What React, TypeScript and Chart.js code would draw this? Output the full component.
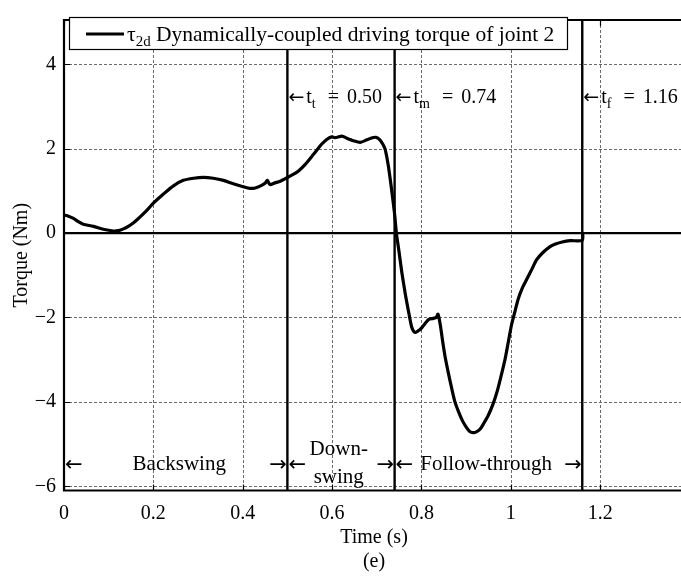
import React, { useEffect, useRef } from 'react';
import { Chart, registerables } from 'chart.js';

Chart.register(...registerables);

// ---- data ----
const timeS = [
  0.0, 0.01, 0.021, 0.032, 0.043, 0.066, 0.088, 0.11, 0.122, 0.133, 0.144, 0.155, 0.166, 0.178, 0.189,
  0.2, 0.222, 0.245, 0.267, 0.29, 0.312, 0.334, 0.357, 0.379, 0.401, 0.416, 0.428, 0.44, 0.45, 0.455,
  0.461, 0.472, 0.484, 0.502, 0.521, 0.54, 0.558, 0.577, 0.588, 0.599, 0.606, 0.612, 0.622, 0.633,
  0.648, 0.663, 0.678, 0.69, 0.698, 0.707, 0.714, 0.719, 0.726, 0.733, 0.74, 0.744, 0.75, 0.756,
  0.764, 0.771, 0.778, 0.783, 0.788, 0.795, 0.801, 0.816, 0.827, 0.833, 0.837, 0.842, 0.848, 0.853,
  0.86, 0.868, 0.875, 0.883, 0.892, 0.901, 0.908, 0.916, 0.923, 0.931, 0.94, 0.95, 0.96, 0.969,
  0.978, 0.987, 0.995, 1.002, 1.01, 1.017, 1.026, 1.036, 1.047, 1.058, 1.072, 1.088, 1.1, 1.115,
  1.133, 1.16, 1.161,
];
const torqueNm = [
  0.43, 0.4, 0.35, 0.27, 0.21, 0.16, 0.09, 0.05, 0.06, 0.1, 0.16, 0.24, 0.34, 0.46, 0.58,
  0.71, 0.92, 1.12, 1.25, 1.3, 1.32, 1.3, 1.25, 1.17, 1.1, 1.06, 1.07, 1.12, 1.18, 1.25,
  1.15, 1.19, 1.23, 1.33, 1.44, 1.63, 1.86, 2.11, 2.22, 2.28, 2.26, 2.27, 2.3, 2.25,
  2.19, 2.15, 2.21, 2.26, 2.27, 2.21, 2.1, 1.98, 1.59, 1.05, 0.45, 0.0, -0.45, -0.92,
  -1.45, -1.85, -2.22, -2.33, -2.35, -2.3, -2.24, -2.05, -2.02, -2.0, -1.92, -2.16, -2.6, -2.93,
  -3.3, -3.69, -4.0, -4.23, -4.45, -4.61, -4.7, -4.73, -4.71, -4.65, -4.5, -4.31, -4.06, -3.77,
  -3.4, -3.0, -2.55, -2.16, -1.83, -1.55, -1.3, -1.09, -0.86, -0.63, -0.46, -0.32, -0.26, -0.21,
  -0.18, -0.17, 0.0,
];

const xTickValues = [0, 0.2, 0.4, 0.6, 0.8, 1, 1.2];
const yTickValues = [-6, -4, -2, 0, 2, 4];
const xRange = [0, 1.381];
const yRange = [-6.1, 5.05];

const phaseTimes = [0.5, 0.74, 1.16];
const phaseSubs = ['t', 'm', 'f'];
const phaseValueLabels = ['0.50', '0.74', '1.16'];
const phaseStarts = [0, 0.5, 0.74];
const phaseEnds = [0.5, 0.74, 1.16];
const phaseNames = [['Backswing'], ['Down-', 'swing'], ['Follow-through']];
const phaseCenters = [0.258, 0.615, 0.945];

const legendSymbol = 'τ';
const legendSub = '2d';
const legendText = ' Dynamically-coupled driving torque of joint 2';
const xTitle = 'Time (s)';
const yTitle = 'Torque (Nm)';
const caption = '(e)';

const FONT = '"Liberation Serif", "DejaVu Serif", serif';
const ARROW_FONT = '"DejaVu Sans", sans-serif';

function fmt(v: number): string {
  return v < 0 ? '\u2212' + String(Math.abs(v)) : String(v);
}

type Run = { t: string; size: number; dy: number; pre?: number };

function drawRuns(ctx: CanvasRenderingContext2D, x: number, y: number, runs: Run[]) {
  let cx = x;
  for (const r of runs) {
    cx += r.pre || 0;
    ctx.font = `${r.size}px ${FONT}`;
    ctx.fillText(r.t, cx, y + r.dy);
    cx += ctx.measureText(r.t).width;
  }
  return cx;
}

const decor = {
  id: 'decor',
  beforeDatasetsDraw(chart: any) {
    const { ctx, chartArea: a, scales } = chart;
    const x = scales.x;
    const y = scales.y;
    ctx.save();
    // dashed grid
    ctx.strokeStyle = '#6a6a6a';
    ctx.lineWidth = 1;
    ctx.setLineDash([3, 2]);
    ctx.beginPath();
    for (const v of xTickValues) {
      if (v === 0) continue;
      const px = Math.round(x.getPixelForValue(v)) + 0.5;
      ctx.moveTo(px, a.top);
      ctx.lineTo(px, a.bottom);
    }
    for (const v of yTickValues) {
      if (v === 0) continue;
      const py = Math.round(y.getPixelForValue(v)) + 0.5;
      ctx.moveTo(a.left, py);
      ctx.lineTo(a.right, py);
    }
    ctx.stroke();
    ctx.setLineDash([]);
    // inward ticks
    ctx.strokeStyle = '#000';
    ctx.lineWidth = 1.2;
    ctx.beginPath();
    for (const v of xTickValues) {
      const px = Math.round(x.getPixelForValue(v)) + 0.5;
      ctx.moveTo(px, a.top);
      ctx.lineTo(px, a.top + 6);
      ctx.moveTo(px, a.bottom);
      ctx.lineTo(px, a.bottom - 6);
    }
    for (const v of yTickValues) {
      const py = Math.round(y.getPixelForValue(v)) + 0.5;
      ctx.moveTo(a.left, py);
      ctx.lineTo(a.left + 6, py);
    }
    ctx.stroke();
    // zero line
    ctx.lineWidth = 2.4;
    const y0 = y.getPixelForValue(0);
    ctx.beginPath();
    ctx.moveTo(a.left, y0);
    ctx.lineTo(a.right, y0);
    ctx.stroke();
    // phase boundary lines
    for (const p of phaseTimes) {
      const px = x.getPixelForValue(p);
      ctx.beginPath();
      ctx.moveTo(px, a.top);
      ctx.lineTo(px, a.bottom);
      ctx.stroke();
    }
    // axes border (left, top, bottom)
    ctx.lineWidth = 2.2;
    ctx.beginPath();
    ctx.moveTo(a.right, a.top);
    ctx.lineTo(a.left, a.top);
    ctx.lineTo(a.left, a.bottom);
    ctx.lineTo(a.right, a.bottom);
    ctx.stroke();
    ctx.restore();
  },
  afterDatasetsDraw(chart: any) {
    const { ctx, chartArea: a, scales } = chart;
    const x = scales.x;
    ctx.save();
    ctx.fillStyle = '#000';
    ctx.textBaseline = 'alphabetic';
    ctx.textAlign = 'left';

    // legend box
    const bl = 69, bt = 17, br = 568, bb = 50;
    ctx.fillStyle = '#fff';
    ctx.fillRect(bl, bt, br - bl, bb - bt);
    ctx.strokeStyle = '#000';
    ctx.lineWidth = 1.2;
    ctx.strokeRect(bl + 0.5, bt + 0.5, br - bl - 1, bb - bt - 1);
    ctx.lineWidth = 3.2;
    ctx.beginPath();
    ctx.moveTo(86, 34);
    ctx.lineTo(124, 34);
    ctx.stroke();
    ctx.fillStyle = '#000';
    drawRuns(ctx, 127, 41, [
      { t: legendSymbol, size: 21.5, dy: 0 },
      { t: legendSub, size: 15, dy: 5 },
      { t: legendText, size: 21.5, dy: 0 },
    ]);

    // top annotations
    phaseTimes.forEach((p, i) => {
      const px = x.getPixelForValue(p);
      ctx.textAlign = 'left';
      ctx.font = `19px ${ARROW_FONT}`;
      ctx.fillText('\u2190', px + 1, 103);
      const aw = ctx.measureText('\u2190').width;
      drawRuns(ctx, px + 1 + aw + 2, 103, [
        { t: 't', size: 20, dy: 0 },
        { t: phaseSubs[i], size: 14, dy: 5 },
        { t: '=', size: 20, dy: 0, pre: 12 },
        { t: phaseValueLabels[i], size: 20, dy: 0, pre: 8 },
      ]);
    });

    // bottom phase annotations
    phaseStarts.forEach((s, i) => {
      const ps = x.getPixelForValue(s);
      const pe = x.getPixelForValue(phaseEnds[i]);
      ctx.font = `21px ${ARROW_FONT}`;
      ctx.textAlign = 'left';
      ctx.fillText('\u2190', ps + 1, 471);
      ctx.textAlign = 'right';
      ctx.fillText('\u2192', pe - 0.5, 471);
      ctx.font = `21px ${FONT}`;
      ctx.textAlign = 'center';
      const cx = x.getPixelForValue(phaseCenters[i]);
      const lines = phaseNames[i];
      if (lines.length === 1) {
        ctx.fillText(lines[0], cx, 470);
      } else {
        ctx.fillText(lines[0], cx, 455);
        ctx.fillText(lines[1], cx, 483);
      }
    });

    // axis titles and caption
    ctx.textAlign = 'center';
    ctx.textBaseline = 'middle';
    ctx.font = `20px ${FONT}`;
    ctx.fillText(xTitle, 374, 538);
    ctx.fillText(caption, 374, 562);
    ctx.save();
    ctx.translate(22, (a.top + a.bottom) / 2);
    ctx.rotate(-Math.PI / 2);
    ctx.fillText(yTitle, 0, 0);
    ctx.restore();
    ctx.restore();
  },
};

export default function App() {
  const ref = useRef<HTMLCanvasElement | null>(null);
  useEffect(() => {
    document.body.style.margin = '0';
    const canvas = ref.current;
    if (!canvas) return;
    const points = timeS.map((t, i) => ({ x: t, y: torqueNm[i] }));
    const chart = new Chart(canvas, {
      type: 'line',
      data: {
        datasets: [
          {
            data: points,
            borderColor: '#000',
            borderWidth: 3.2,
            pointRadius: 0,
            tension: 0.25,
            fill: false,
            borderJoinStyle: 'round',
            borderCapStyle: 'round',
          },
        ],
      },
      options: {
        animation: false,
        responsive: false,
        devicePixelRatio: 1,
        events: [],
        layout: { padding: { top: 6, left: 0, right: 0, bottom: 0 } },
        plugins: { legend: { display: false }, tooltip: { enabled: false } },
        scales: {
          x: {
            type: 'linear',
            min: xRange[0],
            max: xRange[1],
            grid: { display: false, drawTicks: false },
            border: { display: false },
            afterBuildTicks: (s: any) => {
              s.ticks = xTickValues.map((v) => ({ value: v }));
            },
            afterFit: (s: any) => {
              s.height = 88.5;
            },
            ticks: {
              color: '#000',
              font: { family: FONT, size: 20 },
              padding: 11,
              maxRotation: 0,
              autoSkip: false,
              callback: (v: any) => fmt(Number(v)),
            },
          },
          y: {
            type: 'linear',
            min: yRange[0],
            max: yRange[1],
            grid: { display: false, drawTicks: false },
            border: { display: false },
            afterBuildTicks: (s: any) => {
              s.ticks = yTickValues.map((v) => ({ value: v }));
            },
            afterFit: (s: any) => {
              s.width = 64;
            },
            ticks: {
              color: '#000',
              font: { family: FONT, size: 20 },
              padding: 8,
              autoSkip: false,
              callback: (v: any) => fmt(Number(v)),
            },
          },
        },
      },
      plugins: [decor],
    } as any);
    return () => chart.destroy();
  }, []);
  return (
    <div style={{ position: 'absolute', left: 0, top: 0, width: 681, height: 579, background: '#fff' }}>
      <canvas ref={ref} width={681} height={579} style={{ display: 'block' }} />
    </div>
  );
}
